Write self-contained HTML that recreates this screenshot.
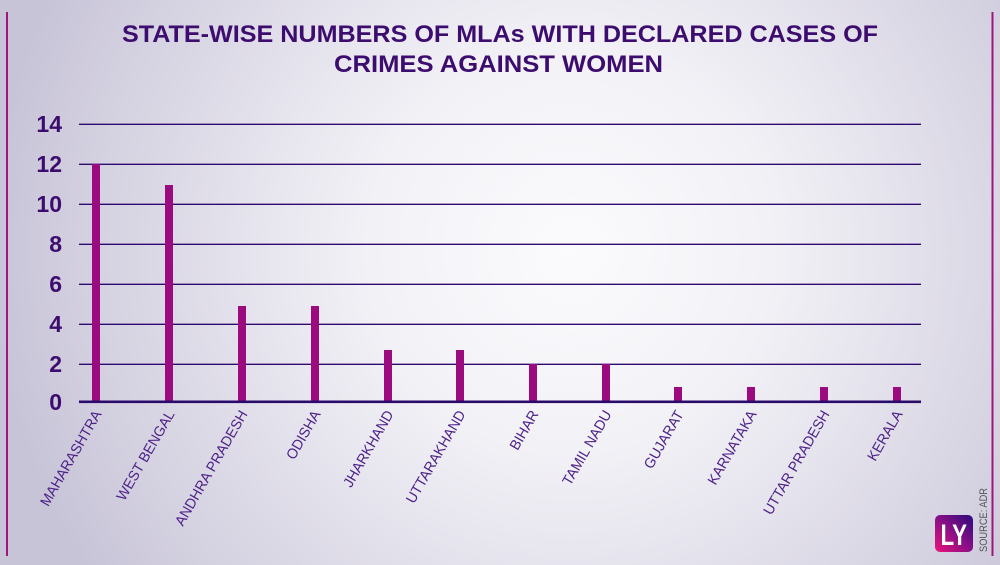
<!DOCTYPE html>
<html>
<head>
<meta charset="utf-8">
<style>
html,body{margin:0;padding:0;width:1000px;height:565px;overflow:hidden;background:#e6e4ee;}
svg{display:block;}
</style>
</head>
<body>
<svg width="1000" height="565" viewBox="0 0 1000 565" xmlns="http://www.w3.org/2000/svg">
  <defs>
    <radialGradient id="bg" gradientUnits="userSpaceOnUse" cx="570" cy="250" r="580">
      <stop offset="0" stop-color="#fbfbfd"/>
      <stop offset="0.35" stop-color="#f2f1f6"/>
      <stop offset="0.75" stop-color="#d9d6e4"/>
      <stop offset="1" stop-color="#c8c4d8"/>
    </radialGradient>
    <linearGradient id="logo" x1="0" y1="1" x2="1" y2="0">
      <stop offset="0" stop-color="#ea1479"/>
      <stop offset="0.5" stop-color="#8a0f86"/>
      <stop offset="1" stop-color="#2a0b7c"/>
    </linearGradient>
  </defs>
  <rect x="0" y="0" width="1000" height="565" fill="url(#bg)"/>

  <!-- side lines -->
  <rect x="6" y="12" width="2" height="544" fill="#a0167f"/>
  <rect x="991.5" y="12" width="2" height="544" fill="#a0167f"/>

  <!-- title -->
  <g font-family="'Liberation Sans', sans-serif" font-weight="bold" font-size="24" fill="#3d0c6f">
    <text x="122" y="42" textLength="756" lengthAdjust="spacingAndGlyphs">STATE-WISE NUMBERS OF MLAs WITH DECLARED CASES OF</text>
    <text x="334" y="72" textLength="329" lengthAdjust="spacingAndGlyphs">CRIMES AGAINST WOMEN</text>
  </g>

  <!-- grid lines -->
  <g stroke="#2e0a6e" stroke-width="1.3">
    <line x1="79" y1="124.3" x2="921" y2="124.3"/>
    <line x1="79" y1="164.3" x2="921" y2="164.3"/>
    <line x1="79" y1="204.3" x2="921" y2="204.3"/>
    <line x1="79" y1="244.3" x2="921" y2="244.3"/>
    <line x1="79" y1="284.3" x2="921" y2="284.3"/>
    <line x1="79" y1="324.3" x2="921" y2="324.3"/>
    <line x1="79" y1="364.3" x2="921" y2="364.3"/>
  </g>

  <!-- y labels -->
  <g font-family="'Liberation Sans', sans-serif" font-weight="bold" font-size="23" fill="#3d0c6f" text-anchor="end">
    <text x="62" y="132">14</text>
    <text x="62" y="172">12</text>
    <text x="62" y="212">10</text>
    <text x="62" y="252">8</text>
    <text x="62" y="292">6</text>
    <text x="62" y="332">4</text>
    <text x="62" y="372">2</text>
    <text x="62" y="410">0</text>
  </g>

  <!-- bars -->
  <g fill="#9c0a80">
    <rect x="92" y="164" width="8" height="237"/>
    <rect x="165" y="185" width="8" height="216"/>
    <rect x="238" y="306" width="8" height="95"/>
    <rect x="311" y="306" width="8" height="95"/>
    <rect x="384" y="350" width="8" height="51"/>
    <rect x="456" y="350" width="8" height="51"/>
    <rect x="529" y="364" width="8" height="37"/>
    <rect x="602" y="364" width="8" height="37"/>
    <rect x="674" y="387" width="8" height="14"/>
    <rect x="747" y="387" width="8" height="14"/>
    <rect x="820" y="387" width="8" height="14"/>
    <rect x="893" y="387" width="8" height="14"/>
  </g>

  <!-- x axis -->
  <rect x="79" y="400.5" width="842" height="2.6" fill="#2a0a6a"/>

  <!-- x labels -->
  <g font-family="'Liberation Sans', sans-serif" font-size="14.5" fill="#4d2289" text-anchor="end">
    <text transform="translate(102,414) rotate(-60) scale(0.97,1)">MAHARASHTRA</text>
    <text transform="translate(175,414) rotate(-60) scale(0.97,1)">WEST BENGAL</text>
    <text transform="translate(248,414) rotate(-60) scale(0.97,1)">ANDHRA PRADESH</text>
    <text transform="translate(321,414) rotate(-60) scale(0.97,1)">ODISHA</text>
    <text transform="translate(394,414) rotate(-60) scale(0.97,1)">JHARKHAND</text>
    <text transform="translate(466,414) rotate(-60) scale(0.97,1)">UTTARAKHAND</text>
    <text transform="translate(539,414) rotate(-60) scale(0.97,1)">BIHAR</text>
    <text transform="translate(612,414) rotate(-60) scale(0.97,1)">TAMIL NADU</text>
    <text transform="translate(684,414) rotate(-60) scale(0.97,1)">GUJARAT</text>
    <text transform="translate(757,414) rotate(-60) scale(0.97,1)">KARNATAKA</text>
    <text transform="translate(830,414) rotate(-60) scale(0.97,1)">UTTAR PRADESH</text>
    <text transform="translate(903,414) rotate(-60) scale(0.97,1)">KERALA</text>
  </g>

  <!-- logo -->
  <rect x="935" y="515" width="38" height="37" rx="5" ry="5" fill="url(#logo)"/>
  <text x="940.5" y="545" font-family="'Liberation Sans', sans-serif" font-weight="bold" font-size="30" fill="#ffffff" textLength="26.5" lengthAdjust="spacingAndGlyphs">LY</text>

  <!-- source -->
  <text transform="translate(987,552) rotate(-90)" font-family="'Liberation Sans', sans-serif" font-size="11" fill="#555555" textLength="64" lengthAdjust="spacingAndGlyphs">SOURCE: ADR</text>
</svg>
</body>
</html>
